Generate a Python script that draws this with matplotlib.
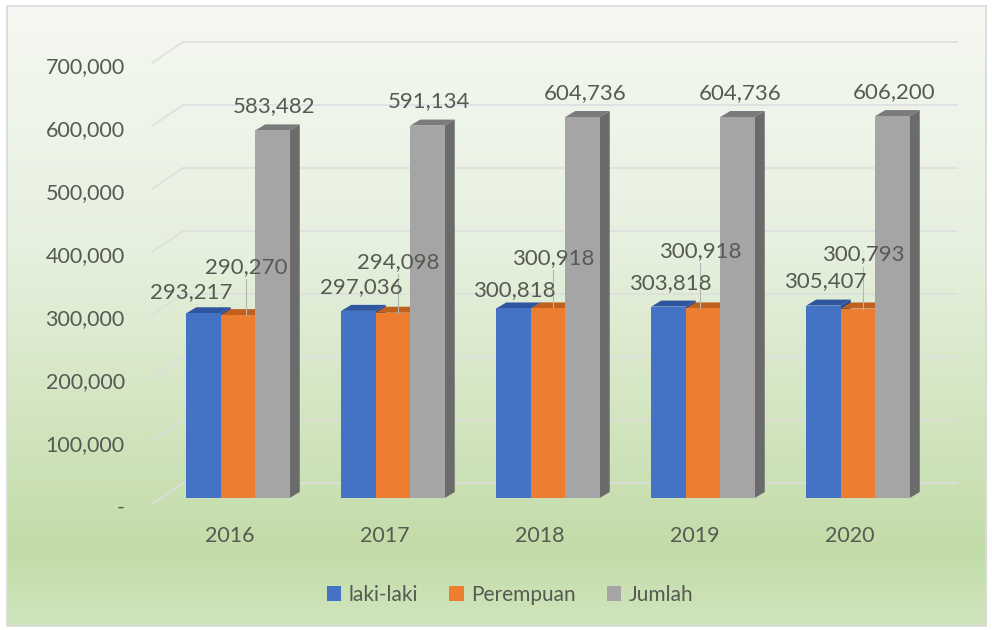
import numpy as np
import matplotlib
matplotlib.use("Agg")
import matplotlib.pyplot as plt
from matplotlib.patches import Polygon, Patch, Rectangle
from matplotlib.colors import LinearSegmentedColormap
from matplotlib.transforms import ScaledTranslation

plt.rcParams['font.family'] = ['Lato', 'DejaVu Sans']

# data
years = ['2016', '2017', '2018', '2019', '2020']
laki = [293217, 297036, 300818, 303818, 305407]
perempuan = [290270, 294098, 300918, 300918, 300793]
jumlah = [583482, 591134, 604736, 604736, 606200]
series_names = ['laki-laki', 'Perempuan', 'Jumlah']
yticks = [0, 100000, 200000, 300000, 400000, 500000, 600000, 700000]

# colours: front, top, side
front_cols = ['#4472c4', '#ed7d31', '#a5a5a5']
top_cols = ['#2f55a0', '#c0601f', '#7b7b7b']
side_cols = ['#2a4c8f', '#b0561b', '#6b6b6b']
txt = '#555a52'

# label offsets (px) relative to front-top centre of each bar
lab_off = [
    [(-12, 21), (3, 24), (1, 18), (2, 24), (2, 24)],
    [(8, 48), (5, 51), (5, 50), (-3, 57), (5, 54)],
    [(2, 24), (1, 24), (3, 24), (3, 24), (2, 24)],
]

W, H = 992, 630
fig = plt.figure(figsize=(W / 100, H / 100), dpi=100)
fig.patch.set_facecolor('white')

# gradient background of chart area
bx0, by0, bx1, by1 = 7, 6, 986, 626
bg = fig.add_axes([bx0 / W, 1 - by1 / H, (bx1 - bx0) / W, (by1 - by0) / H], zorder=0)
cmap = LinearSegmentedColormap.from_list('bg', [
    (0.0, '#f5f8f2'), (0.40, '#e6f0de'), (0.88, '#c2dca8'), (1.0, '#cfe5bd')])
grad = np.linspace(0, 1, 256).reshape(-1, 1)
bg.imshow(grad, aspect='auto', cmap=cmap, extent=[0, 1, 1, 0])
bg.set_axis_off()
fig.add_artist(Rectangle((bx0 / W, 1 - by1 / H), (bx1 - bx0) / W, (by1 - by0) / H,
                         transform=fig.transFigure, fill=False,
                         edgecolor='#d9d9d9', lw=1.2, zorder=1))

# main axes, pixel box
ax_l, ax_r, ax_t, ax_b = 140, 965, 30, 498
ax = fig.add_axes([ax_l / W, 1 - ax_b / H, (ax_r - ax_l) / W, (ax_b - ax_t) / H], zorder=2)
ax.patch.set_alpha(0)
px_per_cat = 155.0
px_per_val = 63.0 / 100000
ax.set_xlim(-(230 - ax_l) / px_per_cat, (ax_r - 230) / px_per_cat)
ax.set_ylim(0, (ax_b - ax_t) / px_per_val)

sx = 1 / px_per_cat      # data x per px
sy = 1 / px_per_val      # data y per px

def xpx(p):
    return (p - 230) / px_per_cat

# back wall gridlines
for v in yticks:
    yb = v + 15 * sy
    ax.plot([xpx(183), xpx(957)], [yb, yb], color='#dedede', lw=1.4, alpha=0.85,
            zorder=1, clip_on=False, solid_capstyle='round')
    ax.plot([xpx(152), xpx(183)], [v - 6 * sy, yb], color='#dedede', lw=1.4, alpha=0.85,
            zorder=1, clip_on=False, solid_capstyle='round')

# bars with fake depth
bw = 34.5 / px_per_cat
shift = 8 / px_per_cat
ddx, ddy = 10 * sx, 6 * sy
x = np.arange(len(years))
all_series = [laki, perempuan, jumlah]
for i in range(len(years)):
    for s, vals in enumerate(all_series):
        xc = x[i] + shift + (s - 1) * bw
        v = vals[i]
        z = 3 + i * 10 + s * 2
        x0, x1 = xc - bw / 2, xc + bw / 2
        ax.add_patch(Polygon([(x0, v), (x0 + ddx, v + ddy), (x1 + ddx, v + ddy), (x1, v)],
                             closed=True, facecolor=top_cols[s], edgecolor='none', zorder=z))
        ax.add_patch(Polygon([(x1, 0), (x1 + ddx, ddy), (x1 + ddx, v + ddy), (x1, v)],
                             closed=True, facecolor=side_cols[s], edgecolor='none', zorder=z))
        ax.bar(xc, v, width=bw, color=front_cols[s], zorder=z + 1, linewidth=0)

# data labels
for i in range(len(years)):
    for s, vals in enumerate(all_series):
        xc = x[i] + shift + (s - 1) * bw
        v = vals[i]
        dx, dy = lab_off[s][i]
        ax.annotate(f'{v:,}', (xc, v), xytext=(dx * 0.72, dy * 0.72),
                    textcoords='offset points', ha='center', va='center',
                    fontsize=16, color=txt, zorder=60)
        if s == 1:
            ax.plot([xc + dx * sx, xc + dx * sx], [v, v + (dy - 12) * sy],
                    color='#b5b5b5', lw=0.8, zorder=59)

# ticks
ax.set_yticks(yticks)
ax.set_yticklabels(['-' if t == 0 else f'{t:,}' for t in yticks], fontsize=15.5, color=txt)
ax.set_xticks(x)
ax.set_xticklabels(years, fontsize=15.5, color=txt)
ax.tick_params(axis='y', length=0, pad=11)
ax.tick_params(axis='x', length=0, pad=20)
off = ScaledTranslation(0, -0.08, fig.dpi_scale_trans)
for lab in ax.get_yticklabels():
    lab.set_transform(lab.get_transform() + off)
for sp in ax.spines.values():
    sp.set_visible(False)

# legend
handles = [Patch(facecolor=c, edgecolor='none') for c in front_cols]
fig.legend(handles, series_names, loc='center', bbox_to_anchor=(510 / W, 1 - 595 / H),
           ncol=3, frameon=False, fontsize=15, labelcolor=txt,
           handlelength=0.7, handleheight=0.7, handletextpad=0.35, columnspacing=1.5)

fig.savefig('out.png', dpi=100)
